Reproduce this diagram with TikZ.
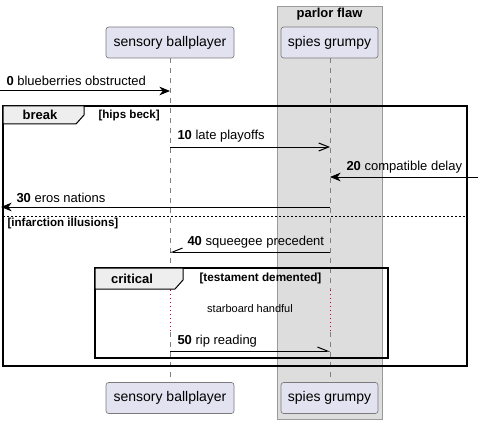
\documentclass[tikz,border=0pt]{standalone}
\usepackage{fontspec}
\setmainfont{Liberation Sans}
\usetikzlibrary{arrows.meta}

\definecolor{partfill}{HTML}{E2E2F0}
\definecolor{partline}{HTML}{7A7A7A}
\definecolor{boxfill}{HTML}{DDDDDD}
\definecolor{boxline}{HTML}{9A9A9A}
\definecolor{tabfill}{HTML}{EEEEEE}
\definecolor{delayred}{HTML}{8B1A3A}

\tikzset{every picture/.style={line width=0.75pt}}
\tikzset{
  partbox/.style={draw=partline, fill=partfill, rounded corners=2pt, line width=0.5pt,
    minimum height=23.25pt, inner sep=0pt, font=\fontsize{10.5}{12}\selectfont},
  lifeline/.style={draw=gray, line width=0.5pt, dash pattern=on 3.75pt off 3.75pt},
  delayline/.style={draw=delayred, line width=0.6pt, dash pattern=on 0.75pt off 2.25pt},
  msgfull/.style={draw=black, -{Stealth[length=8pt,width=6.5pt,inset=2.5pt]}},
  msgopen/.style={draw=black, -{Straight Barb[length=7.5pt,width=6pt]}},
  msghalfwest/.style={draw=black, -{Straight Barb[right,length=7.5pt,width=6pt]}},
  msghalfeast/.style={draw=black, -{Straight Barb[left,length=7.5pt,width=6pt]}},
  msglabel/.style={anchor=west, inner sep=0pt, font=\fontsize{9.75}{11}\selectfont},
  framebox/.style={draw=black, line width=1.3pt},
  frametab/.style={draw=black, fill=tabfill, line width=0.75pt},
  tablabel/.style={inner sep=0pt, font=\fontsize{9.75}{11}\selectfont\bfseries},
  guardlabel/.style={anchor=west, inner sep=0pt, font=\fontsize{8.7}{10}\selectfont\bfseries},
}

\begin{document}
\begin{tikzpicture}[x=0.75pt,y=0.75pt,yscale=-1,xscale=1]
\useasboundingbox (0,0) rectangle (481,424);

%Box: parlor flaw
\draw[draw=boxline, fill=boxfill, line width=0.5pt] (277,6) rectangle (382,419);
\node (boxtitle) [tablabel] at (329.5,14) {parlor flaw};

%Participants
\node (sbtop) [partbox, minimum width=96pt] at (170,42.5) {sensory ballplayer};
\node (sgtop) [partbox, minimum width=72.75pt] at (329.5,42.5) {spies grumpy};
\node (sbbot) [partbox, minimum width=96pt] at (170,398) {sensory ballplayer};
\node (sgbot) [partbox, minimum width=72.75pt] at (329.5,398) {spies grumpy};

%Lifelines
\coordinate (sbd1) at (170,290);
\coordinate (sbd2) at (170,332);
\coordinate (sgd1) at (330,290);
\coordinate (sgd2) at (330,332);
\draw[lifeline] (sbtop.south) -- (sbd1);
\draw[delayline] (sbd1) -- (sbd2);
\draw[lifeline] (sbd2) -- (sbbot.north);
\draw[lifeline] (sgtop.south -| sgd1) -- (sgd1);
\draw[delayline] (sgd1) -- (sgd2);
\draw[lifeline] (sgd2) -- (sgbot.north -| sgd2);

%Message points
\coordinate (in0) at (0,91);     \coordinate (sb0) at (170,91);
\coordinate (sb10) at (170,147); \coordinate (sg10) at (330,147);
\coordinate (in20) at (478,177); \coordinate (sg20) at (330,177);
\coordinate (sg30) at (330,207); \coordinate (out30) at (1,207);
\coordinate (sg40) at (330,252); \coordinate (sb40) at (170,252);
\coordinate (sb50) at (170,351); \coordinate (sg50) at (330,351);

%Frame: break
\draw[framebox] (3,106) rectangle (467,366);
\draw[frametab] (3,106) -- (84,106) -- (84,115) -- (76,124) -- (3,124) -- cycle;
\node (breaklbl) [tablabel] at (40,115) {break};
\node (breakgrd) [guardlabel] at (98,115.5) {[hips beck]};
\draw[dash pattern=on 1.5pt off 1.5pt, line width=0.6pt] (3,216) -- (467,216);
\node (elsegrd) [guardlabel] at (7,223.5) {[infarction illusions]};

%Frame: critical
\draw[framebox] (95,268) rectangle (388,358);
\draw[frametab] (95,268) -- (183,268) -- (183,280) -- (175,289) -- (95,289) -- cycle;
\node (critlbl) [tablabel] at (132,278.5) {critical};
\node (critgrd) [guardlabel, font=\fontsize{8.8}{10}\selectfont\bfseries] at (199,278.5) {[testament demented]};
\node (delaytxt) [inner sep=0pt, font=\fontsize{8.25}{10}\selectfont] at (250,309) {starboard handful};

%Messages
\draw[msgfull] (in0) -- (sb0);
\node (m0) [msglabel] at (6,80.5) {\textbf{0} blueberries obstructed};
\draw[msgopen] (sb10) -- (sg10);
\node (m10) [msglabel] at (177,136.5) {\textbf{10} late playoffs};
\draw[msgfull] (in20) -- (sg20);
\node (m20) [msglabel] at (346,167.5) {\textbf{20} compatible delay};
\draw[msgfull] (sg30) -- (out30);
\node (m30) [msglabel] at (16,197.5) {\textbf{30} eros nations};
\draw[msghalfwest] (sg40) -- (sb40);
\node (m40) [msglabel] at (187,242.5) {\textbf{40} squeegee precedent};
\draw[msghalfeast] (sb50) -- (sg50);
\node (m50) [msglabel] at (177,341.5) {\textbf{50} rip reading};

\end{tikzpicture}
\end{document}
